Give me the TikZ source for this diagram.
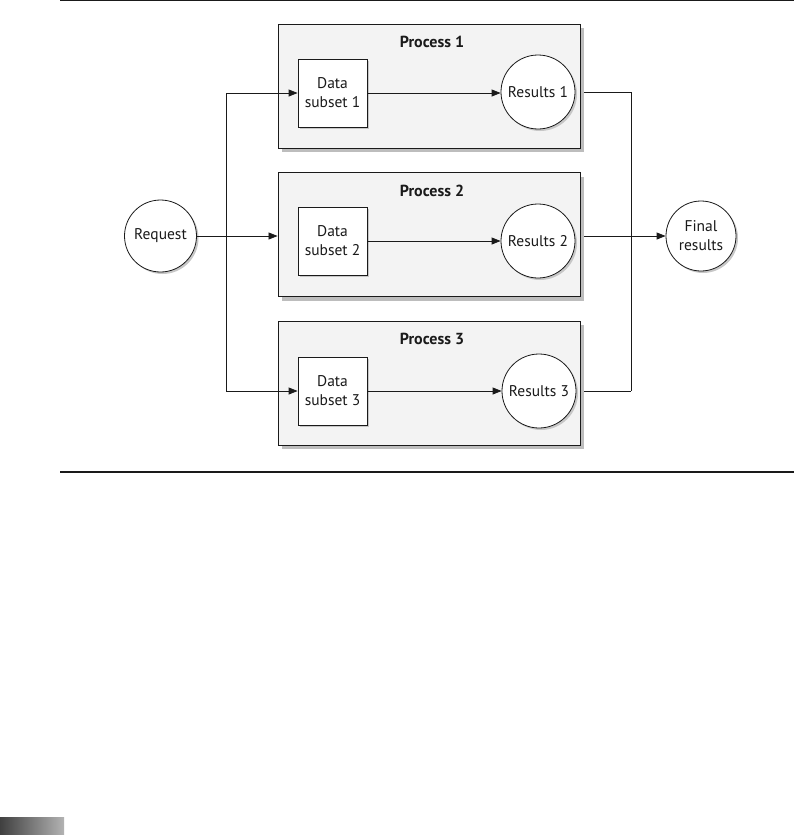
\documentclass[tikz,border=0pt]{standalone}
\usepackage{fontspec}
\setmainfont{PT Sans}
\usetikzlibrary{arrows.meta,shadows,calc}
\definecolor{procfill}{HTML}{F3F3F3}
\definecolor{shadowgray}{HTML}{BDBDBD}
\definecolor{ink}{HTML}{1A1A1A}
\tikzset{
  proc/.style={draw=ink, line width=0.9pt, fill=procfill, minimum width=302pt,
    minimum height=124pt, inner sep=0pt,
    drop shadow={shadow xshift=4pt, shadow yshift=-4pt, fill=shadowgray, opacity=1}},
  ptitle/.style={font=\fontsize{16}{18}\selectfont\bfseries, text=ink},
  databox/.style={draw=ink, line width=0.8pt, fill=white, minimum width=69pt,
    minimum height=68pt, inner sep=0pt, align=center, text=ink,
    font=\fontsize{15.5}{19}\selectfont,
    drop shadow={shadow xshift=2pt, shadow yshift=-2pt, fill=black!22, opacity=1}},
  circ/.style={circle, draw=ink, line width=0.8pt, fill=white, minimum size=74pt,
    inner sep=0pt, align=center, text=ink, font=\fontsize{15.5}{19}\selectfont,
    drop shadow={shadow xshift=2pt, shadow yshift=-2pt, fill=black!22, opacity=1}},
  conn/.style={draw=ink, line width=0.8pt},
  arr/.style={conn, -{Triangle[length=9pt,width=7pt]}},
}
\begin{document}
\begin{tikzpicture}[x=1pt,y=-1pt]
\useasboundingbox (0,0) rectangle (794,835);
% rules
\draw[line width=1.4pt, ink] (60,0.5) -- (794,0.5);
\draw[line width=2pt, ink] (60,472) -- (794,472);
\shade[left color=black!75, right color=black!30] (0,817) rectangle (64,835);

% process boxes
\node[proc] (p1) at (429,86) {};
\node[proc] (p2) at (429,234.5) {};
\node[proc] (p3) at (429,383) {};
\node[ptitle] (t1) at (432,42) {Process 1};
\node[ptitle] (t2) at (432,191) {Process 2};
\node[ptitle] (t3) at (432,339) {Process 3};

% data subsets
\node[databox] (d1) at (332.5,93) {Data\\subset 1};
\node[databox] (d2) at (332.5,241) {Data\\subset 2};
\node[databox] (d3) at (332.5,391) {Data\\subset 3};

% results
\node[circ] (r1) at (538,92) {Results 1};
\node[circ] (r2) at (538,241) {Results 2};
\node[circ] (r3) at (539,391) {Results 3};

% request and final
\node[circ, minimum size=72pt] (req) at (160.5,236) {Request};
\node[circ, minimum size=70pt] (fin) at (701,236) {Final\\results};

\coordinate (xl) at (226,0);
\coordinate (xr) at (631,0);

% left distribution
\draw[arr] (req.east) -- (req.east -| p2.west);
\draw[conn] (d1.west -| xl) -- (d3.west -| xl);
\draw[arr] (d1.west -| xl) -- (d1.west);
\draw[arr] (d3.west -| xl) -- (d3.west);

% inside processes
\draw[arr] (d1.east) -- (d1.east -| r1.west);
\draw[arr] (d2.east) -- (d2.east -| r2.west);
\draw[arr] (d3.east) -- (d3.east -| r3.west);

% right collection
\draw[conn] ($(r1 -| p1.east)+(4,0)$) -- (r1 -| xr);
\draw[conn] ($(r3 -| p3.east)+(4,0)$) -- (r3 -| xr);
\draw[conn] (r1 -| xr) -- (r3 -| xr);
\draw[arr] ($(fin.west -| p2.east)+(4,0)$) -- (fin.west);
\end{tikzpicture}
\end{document}
